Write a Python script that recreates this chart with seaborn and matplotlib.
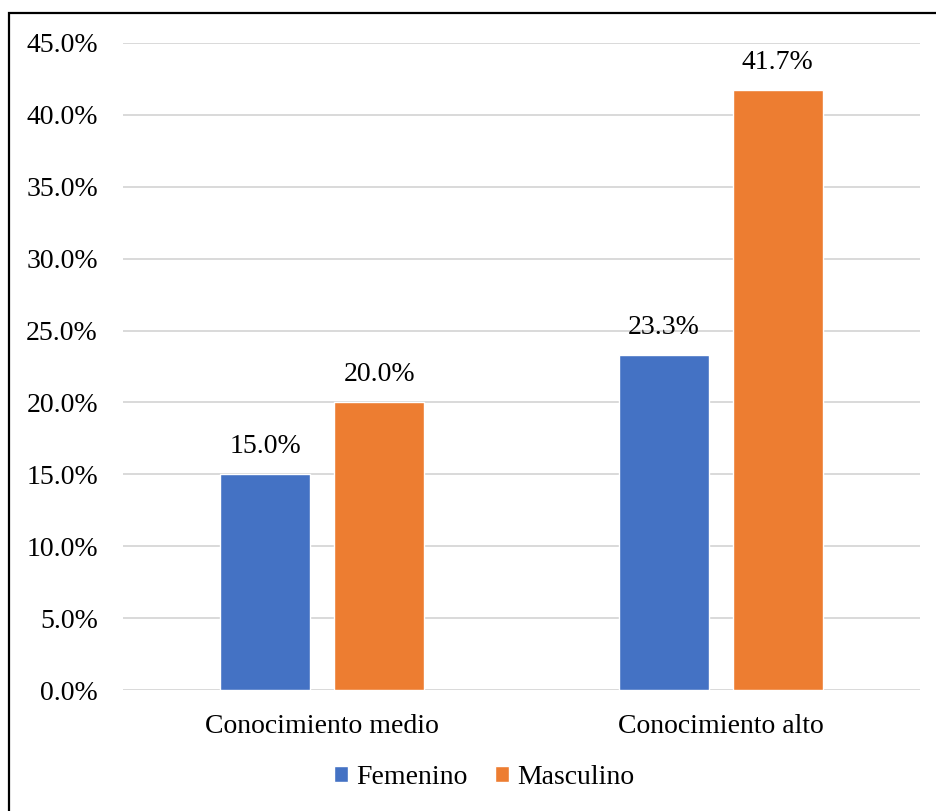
import matplotlib
matplotlib.use("Agg")
import matplotlib.pyplot as plt
from matplotlib.patches import Rectangle
import seaborn as sns
import pandas as pd

categories = ["Conocimiento medio", "Conocimiento alto"]
series = ["Femenino", "Masculino"]
femenino = [15.0, 23.3]
masculino = [20.0, 41.7]
yticks = [0, 5, 10, 15, 20, 25, 30, 35, 40, 45]
colors = ["#4472C4", "#ED7D31"]

df = pd.DataFrame({
    "categoria": categories * 2,
    "sexo": [series[0]] * 2 + [series[1]] * 2,
    "valor": femenino + masculino,
})

sns.set_theme(style="white")
plt.rcParams["font.family"] = ["Liberation Serif", "DejaVu Serif"]
plt.rcParams["text.color"] = "black"
plt.rcParams["xtick.color"] = "black"
plt.rcParams["ytick.color"] = "black"

W, H = 937, 811
fig = plt.figure(figsize=(W / 100, H / 100), dpi=100)
ax = fig.add_axes([123 / W, 121 / H, (920 - 123) / W, (690 - 43) / H])

sns.barplot(data=df, x="categoria", y="valor", hue="sexo", order=categories,
            hue_order=series, palette=colors, width=0.572, gap=0.21,
            saturation=1, ax=ax, legend=True)

ax.set_ylim(0, 45)
ax.set_xlim(-0.5, 1.5)
ax.set_yticks(yticks)
ax.set_yticklabels([f"{v:.1f}%" for v in yticks], fontsize=20)
ax.tick_params(axis="y", length=0, pad=18, labelcolor="black")
ax.tick_params(axis="x", length=0, pad=17, labelsize=20, labelcolor="black")
ax.set_xlabel("")
ax.set_ylabel("")
for s in ax.spines.values():
    s.set_visible(False)
ax.yaxis.grid(True, color="#D9D9D9", linewidth=1.4)
ax.set_axisbelow(True)

for cont in ax.containers:
    ax.bar_label(cont, labels=[f"{b.get_height():.1f}%" for b in cont],
                 padding=11, fontsize=20, color="black")

leg = ax.legend(loc="center", bbox_to_anchor=(484 / W, (H - 777) / H),
                bbox_transform=fig.transFigure, ncol=2, frameon=False,
                fontsize=20, handlelength=0.5, handleheight=0.5,
                handletextpad=0.3, columnspacing=1.0)
for t in leg.get_texts():
    t.set_color("black")

# outer frame around the chart
fig.patches.append(Rectangle((9 / W, -0.1), 1.2, (H - 13) / H + 0.1,
                             transform=fig.transFigure, fill=False,
                             edgecolor="black", linewidth=1.6))

fig.savefig("out.png", dpi=100)
